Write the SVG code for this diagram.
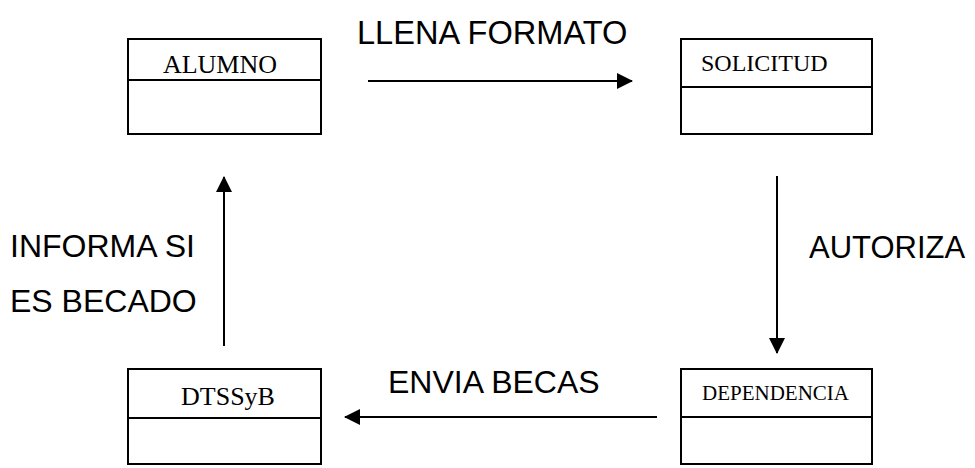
<svg xmlns="http://www.w3.org/2000/svg" width="975" height="468" viewBox="0 0 975 468">
  <style>
    .box { fill: #ffffff; stroke: #000000; stroke-width: 2; }
    .div { stroke: #000000; stroke-width: 2; }
    .name { font-family: "Liberation Serif", "Times New Roman", serif; fill: #000000; }
    .label { font-family: "Liberation Sans", Arial, sans-serif; fill: #000000; }
    .conn { stroke: #000000; stroke-width: 2; fill: none; marker-end: url(#head); }
  </style>
  <defs>
    <marker id="head" viewBox="0 0 16 16" refX="15" refY="8" markerWidth="8" markerHeight="8" orient="auto" markerUnits="strokeWidth">
      <path d="M0,0 L16,8 L0,16 Z" fill="#000000"/>
    </marker>
  </defs>
  <rect width="975" height="468" fill="#ffffff"/>

  <g id="alumno">
    <rect class="box" x="128" y="39" width="193" height="95"/>
    <line class="div" x1="128" y1="80" x2="321" y2="80"/>
    <text class="name" x="220" y="73" font-size="26" text-anchor="middle">ALUMNO</text>
  </g>

  <g id="solicitud">
    <rect class="box" x="681" y="39" width="191" height="95"/>
    <line class="div" x1="681" y1="87" x2="872" y2="87"/>
    <text class="name" x="701" y="71" font-size="24">SOLICITUD</text>
  </g>

  <g id="dependencia">
    <rect class="box" x="681" y="369" width="191" height="95"/>
    <line class="div" x1="681" y1="417" x2="872" y2="417"/>
    <text class="name" x="702" y="400" font-size="21">DEPENDENCIA</text>
  </g>

  <g id="dtssyb">
    <rect class="box" x="128" y="369" width="193" height="95"/>
    <line class="div" x1="128" y1="418" x2="321" y2="418"/>
    <text class="name" x="228" y="405" font-size="26" text-anchor="middle">DTSSyB</text>
  </g>

  <g id="connectors">
    <line class="conn" x1="368" y1="81" x2="632" y2="81"/>
    <line class="conn" x1="777" y1="176" x2="777" y2="353"/>
    <line class="conn" x1="657" y1="417" x2="345" y2="417"/>
    <line class="conn" x1="224" y1="346" x2="224" y2="177"/>
  </g>

  <g id="labels">
    <text class="label" x="357" y="44" font-size="32.6">LLENA FORMATO</text>
    <text class="label" x="809" y="258" font-size="31">AUTORIZA</text>
    <text class="label" x="388" y="393" font-size="32">ENVIA BECAS</text>
    <text class="label" x="10" y="257" font-size="32">INFORMA SI</text>
    <text class="label" x="10" y="312" font-size="32">ES BECADO</text>
  </g>
</svg>
